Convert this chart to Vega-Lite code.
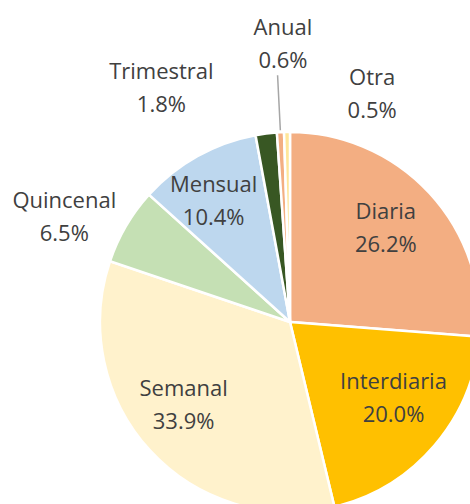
{
  "$schema": "https://vega.github.io/schema/vega-lite/v6.json",
  "width": 470,
  "height": 504,
  "padding": 0,
  "autosize": {"type": "none"},
  "background": "white",
  "config": {"view": {"stroke": null}},
  "data": {
    "values": [
      {"cat": "Diaria", "value": 26.2, "order": 1},
      {"cat": "Interdiaria", "value": 20.0, "order": 2},
      {"cat": "Semanal", "value": 33.9, "order": 3},
      {"cat": "Quincenal", "value": 6.5, "order": 4},
      {"cat": "Mensual", "value": 10.4, "order": 5},
      {"cat": "Trimestral", "value": 1.8, "order": 6},
      {"cat": "Anual", "value": 0.6, "order": 7},
      {"cat": "Otra", "value": 0.5, "order": 8}
    ]
  },
  "transform": [
    {"stack": "value", "groupby": [], "sort": [{"field": "order", "order": "ascending"}], "as": ["v0", "v1"]},
    {"calculate": "(datum.v0 + datum.v1) / 2", "as": "mid"},
    {"calculate": "datum.cat + '\\n' + format(datum.value, '.1f') + '%'", "as": "label"}
  ],
  "layer": [
    {
      "mark": {"type": "arc", "x": 290, "y": 322, "outerRadius": 190, "stroke": "white", "strokeWidth": 2.5},
      "encoding": {
        "theta": {"field": "v0", "type": "quantitative", "scale": {"domain": [0, 99.9]}},
        "theta2": {"field": "v1"},
        "color": {
          "field": "cat", "type": "nominal", "legend": null,
          "scale": {
            "domain": ["Diaria", "Interdiaria", "Semanal", "Quincenal", "Mensual", "Trimestral", "Anual", "Otra"],
            "range": ["#F3AE82", "#FFC000", "#FFF2CC", "#C5E0B4", "#BDD7EE", "#385723", "#F3AE82", "#FFE699"]
          }
        }
      }
    },
    {
      "transform": [{"filter": "datum.cat === 'Anual'"}],
      "mark": {"type": "arc", "x": 290, "y": 322, "radius": 247, "radius2": 192, "fill": null, "stroke": "#A6A6A6", "strokeWidth": 1.5},
      "encoding": {
        "theta": {"field": "mid", "type": "quantitative", "scale": {"domain": [0, 99.9]}},
        "theta2": {"field": "mid"}
      }
    },
    {
      "transform": [{"filter": "datum.cat === 'Diaria'"}],
      "mark": {"type": "text", "x": 290, "y": 322, "radius": 136, "dx": -4, "dy": -18, "font": "Open Sans", "fontSize": 22, "fill": "#404040", "lineBreak": "\n", "lineHeight": 33},
      "encoding": {"theta": {"field": "mid", "type": "quantitative", "scale": {"domain": [0, 99.9]}}, "text": {"field": "label"}}
    },
    {
      "transform": [{"filter": "datum.cat === 'Interdiaria'"}],
      "mark": {"type": "text", "x": 290, "y": 322, "radius": 136, "dx": 0, "dy": -28, "font": "Open Sans", "fontSize": 22, "fill": "#404040", "lineBreak": "\n", "lineHeight": 33},
      "encoding": {"theta": {"field": "mid", "type": "quantitative", "scale": {"domain": [0, 99.9]}}, "text": {"field": "label"}}
    },
    {
      "transform": [{"filter": "datum.cat === 'Semanal'"}],
      "mark": {"type": "text", "x": 290, "y": 322, "radius": 136, "dx": -6, "dy": -25, "font": "Open Sans", "fontSize": 22, "fill": "#404040", "lineBreak": "\n", "lineHeight": 33},
      "encoding": {"theta": {"field": "mid", "type": "quantitative", "scale": {"domain": [0, 99.9]}}, "text": {"field": "label"}}
    },
    {
      "transform": [{"filter": "datum.cat === 'Mensual'"}],
      "mark": {"type": "text", "x": 290, "y": 322, "radius": 136, "dx": -10, "dy": -18, "font": "Open Sans", "fontSize": 22, "fill": "#404040", "lineBreak": "\n", "lineHeight": 33},
      "encoding": {"theta": {"field": "mid", "type": "quantitative", "scale": {"domain": [0, 99.9]}}, "text": {"field": "label"}}
    },
    {
      "transform": [{"filter": "datum.cat === 'Quincenal'"}],
      "mark": {"type": "text", "x": 290, "y": 322, "radius": 250, "dx": -10, "dy": 5, "font": "Open Sans", "fontSize": 22, "fill": "#404040", "lineBreak": "\n", "lineHeight": 33},
      "encoding": {"theta": {"field": "mid", "type": "quantitative", "scale": {"domain": [0, 99.9]}}, "text": {"field": "label"}}
    },
    {
      "transform": [{"filter": "datum.cat === 'Trimestral'"}],
      "mark": {"type": "text", "x": 290, "y": 322, "radius": 268, "dx": -95, "dy": 16, "font": "Open Sans", "fontSize": 22, "fill": "#404040", "lineBreak": "\n", "lineHeight": 33},
      "encoding": {"theta": {"field": "mid", "type": "quantitative", "scale": {"domain": [0, 99.9]}}, "text": {"field": "label"}}
    },
    {
      "transform": [{"filter": "datum.cat === 'Anual'"}],
      "mark": {"type": "text", "x": 290, "y": 322, "radius": 279, "dx": 7, "dy": -15, "font": "Open Sans", "fontSize": 22, "fill": "#404040", "lineBreak": "\n", "lineHeight": 33},
      "encoding": {"theta": {"field": "mid", "type": "quantitative", "scale": {"domain": [0, 99.9]}}, "text": {"field": "label"}}
    },
    {
      "transform": [{"filter": "datum.cat === 'Otra'"}],
      "mark": {"type": "text", "x": 290, "y": 322, "radius": 243, "dx": 86, "dy": -1, "font": "Open Sans", "fontSize": 22, "fill": "#404040", "lineBreak": "\n", "lineHeight": 33},
      "encoding": {"theta": {"field": "mid", "type": "quantitative", "scale": {"domain": [0, 99.9]}}, "text": {"field": "label"}}
    }
  ]
}
